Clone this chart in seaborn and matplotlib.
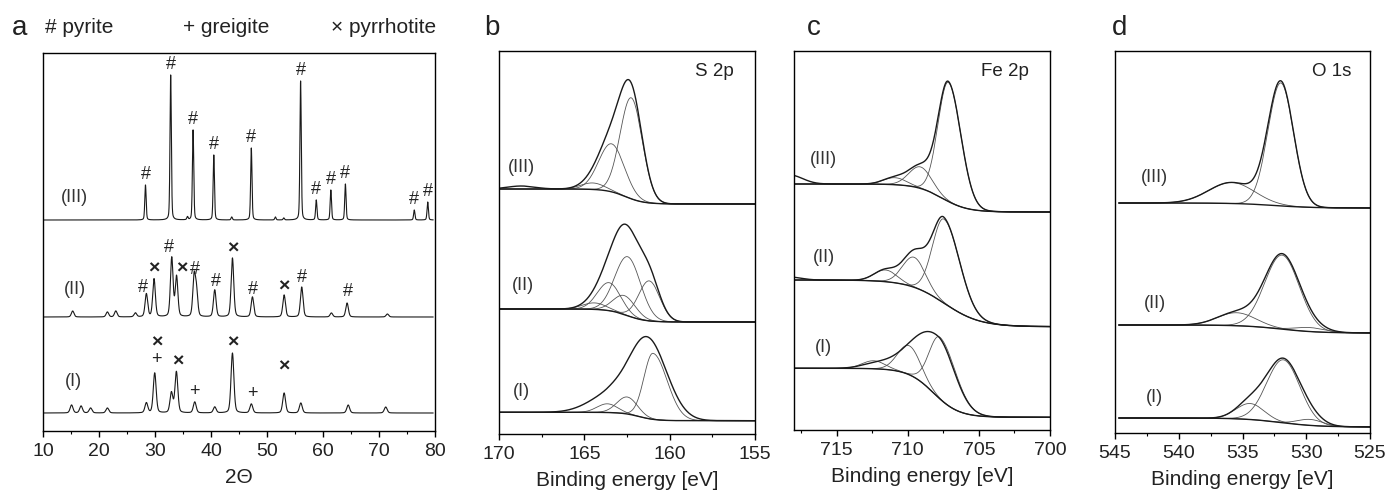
import numpy as np
import pandas as pd
import matplotlib
matplotlib.use("Agg")
import matplotlib.pyplot as plt
from matplotlib.ticker import MultipleLocator
import seaborn as sns

sns.set_theme(style="ticks")
plt.rcParams['font.family'] = ['Liberation Sans', 'DejaVu Sans']

# ---------------- XRD data (panel a) ----------------
# peak positions (2Theta), heights (a.u.), per pattern; offsets of baselines
xrd_III_pos = [28.3, 32.8, 36.8, 40.5, 47.2, 56.0, 58.8, 61.4, 64.0, 76.3, 78.7, 35.8, 43.7, 51.5, 53.0]
xrd_III_h = [35, 145, 90, 65, 72, 139, 20, 30, 36, 10, 18, 3, 3, 3, 2]
xrd_II_pos = [15.3, 21.5, 23.0, 26.5, 28.46, 29.83, 32.99, 33.85, 36.98, 37.4, 40.67, 43.83, 47.4, 53.06, 56.2, 61.5, 64.3, 71.5]
xrd_II_h = [6, 5, 6, 4, 23, 38, 59, 40, 39, 25, 27, 59, 20, 22, 30, 4, 14, 3]
xrd_I_pos = [15.1, 16.8, 18.5, 21.5, 28.46, 29.95, 32.93, 33.82, 37.1, 40.67, 43.83, 47.2, 53.06, 56.04, 64.5, 71.2]
xrd_I_h = [8, 7, 5, 5, 10, 40, 20, 41, 11, 6, 60, 9, 20, 10, 8, 6]
xrd_offsets = {"III": 211, "II": 114, "I": 18}
xrd_fwhm = {"III": 0.28, "II": 0.55, "I": 0.6}

# phase markers: (symbol, 2Theta, height)
marks_III = [(p, h) for p, h in zip(xrd_III_pos[:11], xrd_III_h[:11])]
marks_II = [("#", 27.87, 144), ("×", 29.77, 162), ("#", 32.51, 184), ("×", 34.78, 162),
            ("#", 37.16, 162), ("#", 40.85, 149), ("×", 43.83, 182), ("#", 47.52, 141),
            ("×", 53.0, 144), ("#", 56.16, 153), ("#", 64.5, 139)]
marks_I = [("×", 30.25, 88), ("+", 30.25, 72), ("×", 34.0, 69), ("+", 37.1, 39),
           ("×", 43.83, 88), ("+", 47.34, 37), ("×", 53.0, 64)]

# ---------------- XPS data (panels b, c, d) ----------------
# background: (left level, right level, step centre, step width)
# components: (centre eV, height, sigma_high_BE, sigma_low_BE)
# hidden: extra intensity only in the measured curve
# meas: measured curve given directly (above background) when it differs from the fit sum
S2p_bg = {"III": (245, 230, 162.6, 0.55), "II": (125, 112, 162.5, 0.55), "I": (21.7, 13.3, 161.8, 0.5)}
S2p_comp = {"III": [(162.25, 101, 0.65, 0.65), (163.4, 48, 0.75, 0.75), (164.5, 6.5, 0.7, 0.7)],
            "II": [(162.45, 59, 0.75, 0.75), (161.2, 40, 0.62, 0.62), (163.55, 28, 0.68, 0.68),
                   (162.65, 19, 0.65, 0.65), (164.4, 6.5, 0.7, 0.7)],
            "I": [(160.98, 66, 0.53, 0.83), (162.48, 17, 0.6, 0.6), (163.65, 8.7, 0.6, 0.6)]}
S2p_hidden = {"III": [(168.7, 3, 0.8, 0.8)], "II": [], "I": []}
S2p_meas = {"I": [(161.31, 81, 1.1, 1.12), (163.6, 16, 1.2, 0.9)]}
S2p_lab = {"III": (168.7, 267), "II": (168.6, 149), "I": (168.7, 42)}

Fe2p_bg = {"III": (246, 218, 707.6, 0.9), "II": (150, 103.3, 707.43, 1.26), "I": (61.7, 12.7, 708.2, 0.9)}
Fe2p_comp = {"III": [(707.15, 119, 0.72, 0.88), (709.1, 21.5, 0.8, 0.8), (710.9, 7, 0.8, 0.8)],
             "II": [(707.45, 84, 0.8, 1.1), (709.56, 30, 0.8, 0.8), (711.55, 11.7, 0.8, 0.8)],
             "I": [(707.73, 61.7, 0.75, 1.1), (709.9, 29, 0.8, 0.8), (712.4, 8, 0.8, 0.8)]}
Fe2p_hidden = {"III": [(718.3, 9, 0.9, 0.9)], "II": [(709.0, 6, 0.8, 0.8), (718.3, 3, 0.8, 0.8)], "I": []}
Fe2p_meas = {"I": [(707.85, 61, 1.8, 1.15), (712.3, 4, 1.0, 1.0)]}
Fe2p_lab = {"III": (715.9, 270), "II": (715.9, 172), "I": (715.9, 82)}

O1s_bg = {"III": (230, 225, 532.5, 1.5), "II": (108, 100, 532.0, 1.5), "I": (15, 6, 532.0, 1.5)}
O1s_comp = {"III": [(532.0, 123, 1.0, 1.0), (535.85, 21, 1.8, 1.8)],
            "II": [(531.9, 74, 1.35, 1.35), (535.45, 13, 1.5, 1.5), (529.7, 4, 1.2, 1.2)],
            "I": [(531.8, 63, 1.3, 1.3), (534.4, 16, 1.1, 1.1), (529.7, 6, 1.0, 1.0)]}
O1s_hidden = {"III": [], "II": [], "I": []}
O1s_meas = {}
O1s_lab = {"III": (541.9, 256), "II": (541.9, 130), "I": (541.9, 36)}

# ---------------- helpers ----------------
def agauss(E, c, h, sl, sr):
    s = np.where(E >= c, sl, sr)
    return h * np.exp(-(E - c) ** 2 / (2 * s * s))

def pvoigt(x, c, h, f, eta=0.5):
    d = (x - c) ** 2
    return h * (eta / (1 + 4 * d / f ** 2) + (1 - eta) * np.exp(-4 * np.log(2) * d / f ** 2))

def step(E, left, right, c, w):
    return right + (left - right) / (1 + np.exp(-(E - c) / w))

def line(ax, x, y, color, lw):
    sns.lineplot(x=x, y=y, ax=ax, color=color, linewidth=lw, estimator=None, sort=False)

DARK = "#1a1a1a"
GREY = "#555555"
TXT = "#222222"

fig = plt.figure(figsize=(13.89, 4.94), dpi=100)
W, H = 1389, 494

def add_ax(l, t, r, b):
    return fig.add_axes([l / W, 1 - b / H, (r - l) / W, (b - t) / H])

axa = add_ax(43, 53, 435, 431)
axb = add_ax(499, 51, 755, 434)
axc = add_ax(794, 51, 1050, 430)
axd = add_ax(1115, 51, 1370, 433)

# ---------------- panel a ----------------
x2t = np.arange(10.2, 79.7, 0.02)
for name, pos, hts in [("III", xrd_III_pos, xrd_III_h), ("II", xrd_II_pos, xrd_II_h), ("I", xrd_I_pos, xrd_I_h)]:
    y = np.full_like(x2t, xrd_offsets[name], dtype=float)
    for p, h in zip(pos, hts):
        y = y + pvoigt(x2t, p, h, xrd_fwhm[name], 0.3)
    line(axa, x2t, y, DARK, 0.8)
for p, h in marks_III:
    axa.text(p, xrd_offsets["III"] + h + 2, "#", ha="center", va="bottom", fontsize=13, color=TXT)
for sym, p, yv in marks_II + marks_I:
    axa.text(p, yv, sym, ha="center", va="center", fontsize=14 if sym == "×" else 13,
             color=TXT, fontweight="bold" if sym == "×" else "normal")
for name, (xx, yy) in {"III": (15.7, 234), "II": (15.7, 141), "I": (15.5, 49)}.items():
    axa.text(xx, yy, f"({name})", ha="center", va="center", fontsize=13, color="#333333")
axa.set_xlim(10, 80)
axa.set_ylim(0, 378)
axa.xaxis.set_major_locator(MultipleLocator(10))
axa.xaxis.set_minor_locator(MultipleLocator(5))
axa.set_xlabel("2Θ", fontsize=15, labelpad=6)

# ---------------- panels b-d ----------------
def xps(ax, E, bgs, comps, hidden, meas, labs, lo, hi, ylim, title, tx):
    for name in ["III", "II", "I"]:
        bg = step(E, *bgs[name])
        env = bg.copy()
        for c, h, sl, sr in comps[name]:
            comp = agauss(E, c, h, sl, sr)
            env = env + comp
            line(ax, E, bg + comp, GREY, 0.6)
        for c, h, sl, sr in hidden[name]:
            env = env + agauss(E, c, h, sl, sr)
        if name in meas:
            env = bg.copy()
            for c, h, sl, sr in meas[name]:
                env = env + agauss(E, c, h, sl, sr)
        line(ax, E, bg, DARK, 1.0)
        line(ax, E, env, DARK, 1.0)
        ax.text(labs[name][0], labs[name][1], f"({name})", ha="center", va="center",
                fontsize=13, color="#333333")
    ax.set_xlim(hi, lo)
    ax.set_ylim(0, ylim)
    ax.xaxis.set_major_locator(MultipleLocator(5))
    ax.xaxis.set_minor_locator(MultipleLocator(2.5))
    ax.set_xlabel("Binding energy [eV]", fontsize=15, labelpad=6)
    ax.text(tx, ylim - 21, title, ha="center", va="center", fontsize=13.5, color=TXT)

xps(axb, np.arange(155, 170.001, 0.02), S2p_bg, S2p_comp, S2p_hidden, S2p_meas, S2p_lab, 155, 170, 383, "S 2p", 157.4)
xps(axc, np.arange(700, 718.001, 0.02), Fe2p_bg, Fe2p_comp, Fe2p_hidden, Fe2p_meas, Fe2p_lab, 700, 718, 379, "Fe 2p", 703.2)
xps(axd, np.arange(525, 544.7, 0.02), O1s_bg, O1s_comp, O1s_hidden, O1s_meas, O1s_lab, 525, 545, 382, "O 1s", 528.0)

for ax in [axa, axb, axc, axd]:
    ax.set_yticks([])
    ax.set_ylabel("")
    for sp in ax.spines.values():
        sp.set_visible(True)
        sp.set_color("black")
        sp.set_linewidth(1.0)
    ax.tick_params(axis="x", which="major", direction="out", length=4.5, width=1.0,
                   labelsize=14, pad=4, colors="black", labelcolor=TXT)
    ax.tick_params(axis="x", which="minor", direction="out", length=2.5, width=0.8, colors="black")
    ax.xaxis.label.set_color(TXT)

# panel letters and legend
for letter, xp in [("a", 12), ("b", 484), ("c", 807), ("d", 1112)]:
    fig.text(xp / W, 1 - 35 / H, letter, fontsize=20, color=TXT, ha="left", va="baseline")
for txt, xp in [("# pyrite", 45), ("+ greigite", 183), ("× pyrrhotite", 331)]:
    fig.text(xp / W, 1 - 33 / H, txt, fontsize=15, color=TXT, ha="left", va="baseline")

fig.savefig("out.png", dpi=100)
